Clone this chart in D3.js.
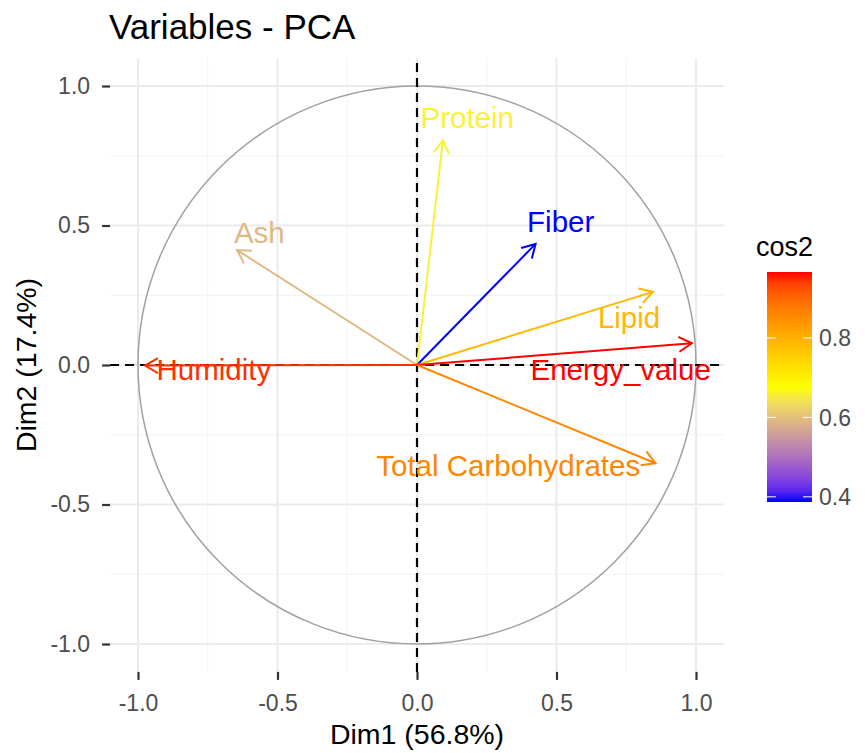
<!DOCTYPE html>
<html>
<head>
<meta charset="utf-8">
<script src="https://cdn.jsdelivr.net/npm/d3@7"></script>
<style>
  body { margin: 0; background: #fff; }
  text { font-family: "Liberation Sans", Arial, sans-serif; }
</style>
</head>
<body>
<div id="chart"></div>
<script>
// variables and their coordinates on Dim1 / Dim2
var variables = ['Protein', 'Fiber', 'Ash', 'Lipid', 'Energy_value', 'Humidity', 'Total Carbohydrates']
var dim1 = [0.093, 0.425, -0.645, 0.846, 0.985, -0.975, 0.855]
var dim2 = [0.806, 0.434, 0.412, 0.262, 0.078, -0.002, -0.352]
var cos2 = [0.66, 0.387, 0.59, 0.79, 0.966, 0.95, 0.86]
// where the (repelled) labels ended up, in data units
var labelDim1 = [0.18, 0.515, -0.565, 0.76, 0.73, -0.728, 0.327]
var labelDim2 = [0.885, 0.514, 0.474, 0.168, -0.018, -0.018, -0.36]

var ticks = [-1.0, -0.5, 0.0, 0.5, 1.0]
var minorTicks = [-0.75, -0.25, 0.25, 0.75]
var legendTicks = [0.4, 0.6, 0.8]

var width = 865, height = 753
var unit = 279

var svg = d3.select('#chart').append('svg')
  .attr('width', width).attr('height', height)

var x = d3.scaleLinear().domain([-1.1, 1.1]).range([417 - 1.1 * unit, 417 + 1.1 * unit])
var y = d3.scaleLinear().domain([-1.1, 1.1]).range([365 + 1.1 * unit, 365 - 1.1 * unit])

var color = d3.scaleLinear()
  .domain([d3.min(cos2), (d3.min(cos2) + d3.max(cos2)) / 2, d3.max(cos2)])
  .range(['blue', 'yellow', 'red'])
  .interpolate(d3.interpolateLab)

// grid
var grid = svg.append('g')
grid.selectAll('.minx').data(minorTicks).enter().append('line')
  .attr('x1', x).attr('x2', x).attr('y1', y.range()[0]).attr('y2', y.range()[1])
  .attr('stroke', '#f2f2f2').attr('stroke-width', 1)
grid.selectAll('.miny').data(minorTicks).enter().append('line')
  .attr('y1', y).attr('y2', y).attr('x1', x.range()[0]).attr('x2', x.range()[1])
  .attr('stroke', '#f2f2f2').attr('stroke-width', 1)
grid.selectAll('.majx').data(ticks).enter().append('line')
  .attr('x1', x).attr('x2', x).attr('y1', y.range()[0]).attr('y2', y.range()[1])
  .attr('stroke', '#ebebeb').attr('stroke-width', 2)
grid.selectAll('.majy').data(ticks).enter().append('line')
  .attr('y1', y).attr('y2', y).attr('x1', x.range()[0]).attr('x2', x.range()[1])
  .attr('stroke', '#ebebeb').attr('stroke-width', 2)

// axes
var fmt = function(d){ return d3.format('.1f')(d).replace('\u2212', '-') }
var xAxis = svg.append('g')
  .attr('transform', 'translate(0,' + y.range()[0] + ')')
  .call(d3.axisBottom(x).tickValues(ticks).tickFormat(fmt).tickSize(8).tickPadding(15))
var yAxis = svg.append('g')
  .attr('transform', 'translate(' + x.range()[0] + ',0)')
  .call(d3.axisLeft(y).tickValues(ticks).tickFormat(fmt).tickSize(8).tickPadding(12))
;[xAxis, yAxis].forEach(function(a){
  a.select('.domain').remove()
  a.selectAll('.tick line').attr('stroke', '#333').attr('stroke-width', 2.2)
  a.selectAll('.tick text').attr('fill', '#4d4d4d').style('font-size', '23px')
    .style('font-family', '"Liberation Sans", Arial, sans-serif')
})

// correlation circle
svg.append('circle')
  .attr('cx', x(0)).attr('cy', y(0)).attr('r', x(1) - x(0))
  .attr('fill', 'none').attr('stroke', '#a0a0a0').attr('stroke-width', 1.5)

// reference lines
svg.append('line')
  .attr('x1', x.range()[0]).attr('x2', x.range()[1]).attr('y1', y(0)).attr('y2', y(0))
  .attr('stroke', '#000').attr('stroke-width', 2.2).attr('stroke-dasharray', '9,6')
svg.append('line')
  .attr('x1', x(0)).attr('x2', x(0)).attr('y1', y.range()[0]).attr('y2', y.range()[1])
  .attr('stroke', '#000').attr('stroke-width', 2.2).attr('stroke-dasharray', '9,6')

// arrows
var arrows = svg.append('g').selectAll('g').data(variables).enter().append('g')
arrows.append('line')
  .attr('x1', x(0)).attr('y1', y(0))
  .attr('x2', function(d, i){ return x(dim1[i]) })
  .attr('y2', function(d, i){ return y(dim2[i]) })
  .attr('stroke', function(d, i){ return color(cos2[i]) })
  .attr('stroke-width', 2)
arrows.append('path')
  .attr('d', function(d, i){
    var x1 = x(dim1[i]), y1 = y(dim2[i])
    var a = Math.atan2(y1 - y(0), x1 - x(0))
    var len = 15, spread = Math.PI / 6
    return 'M' + (x1 - len * Math.cos(a - spread)) + ',' + (y1 - len * Math.sin(a - spread)) +
      'L' + x1 + ',' + y1 +
      'L' + (x1 - len * Math.cos(a + spread)) + ',' + (y1 - len * Math.sin(a + spread))
  })
  .attr('fill', 'none')
  .attr('stroke', function(d, i){ return color(cos2[i]) })
  .attr('stroke-width', 2)
arrows.append('text')
  .attr('x', function(d, i){ return x(labelDim1[i]) })
  .attr('y', function(d, i){ return y(labelDim2[i]) })
  .attr('text-anchor', 'middle').attr('dy', '0.35em')
  .attr('fill', function(d, i){ return color(cos2[i]) })
  .style('font-size', '29.5px')
  .text(function(d){ return d })

// titles
svg.append('text').attr('x', 109).attr('y', 39)
  .style('font-size', '35px').attr('fill', '#000').text('Variables - PCA')
svg.append('text').attr('x', x(0)).attr('y', 744).attr('text-anchor', 'middle')
  .style('font-size', '28.5px').attr('fill', '#000').text('Dim1 (56.8%)')
svg.append('text').attr('transform', 'translate(36,' + y(0) + ') rotate(-90)')
  .attr('text-anchor', 'middle')
  .style('font-size', '28.5px').attr('fill', '#000').text('Dim2 (17.4%)')

// legend
var lg = d3.scaleLinear().domain([d3.min(cos2), d3.max(cos2)]).range([502, 272])
var defs = svg.append('defs')
var grad = defs.append('linearGradient').attr('id', 'cosgrad')
  .attr('x1', 0).attr('x2', 0).attr('y1', 1).attr('y2', 0)
d3.range(0, 1.001, 0.05).forEach(function(t){
  var v = d3.min(cos2) + t * (d3.max(cos2) - d3.min(cos2))
  grad.append('stop').attr('offset', t).attr('stop-color', color(v))
})
svg.append('rect').attr('x', 767).attr('y', lg.range()[1])
  .attr('width', 45).attr('height', lg.range()[0] - lg.range()[1])
  .attr('fill', 'url(#cosgrad)')
svg.append('g').selectAll('line').data(legendTicks).enter().append('line')
  .attr('x1', 767).attr('x2', 776).attr('y1', lg).attr('y2', lg)
  .attr('stroke', '#fff').attr('stroke-width', 1)
svg.append('g').selectAll('line').data(legendTicks).enter().append('line')
  .attr('x1', 803).attr('x2', 812).attr('y1', lg).attr('y2', lg)
  .attr('stroke', '#fff').attr('stroke-width', 1)
svg.append('g').selectAll('text').data(legendTicks).enter().append('text')
  .attr('x', 819).attr('y', lg).attr('dy', '0.36em')
  .style('font-size', '23px').attr('fill', '#4d4d4d')
  .text(function(d){ return d3.format('.1f')(d) })
svg.append('text').attr('x', 756).attr('y', 256)
  .style('font-size', '27px').attr('fill', '#000').text('cos2')
</script>
</body>
</html>
